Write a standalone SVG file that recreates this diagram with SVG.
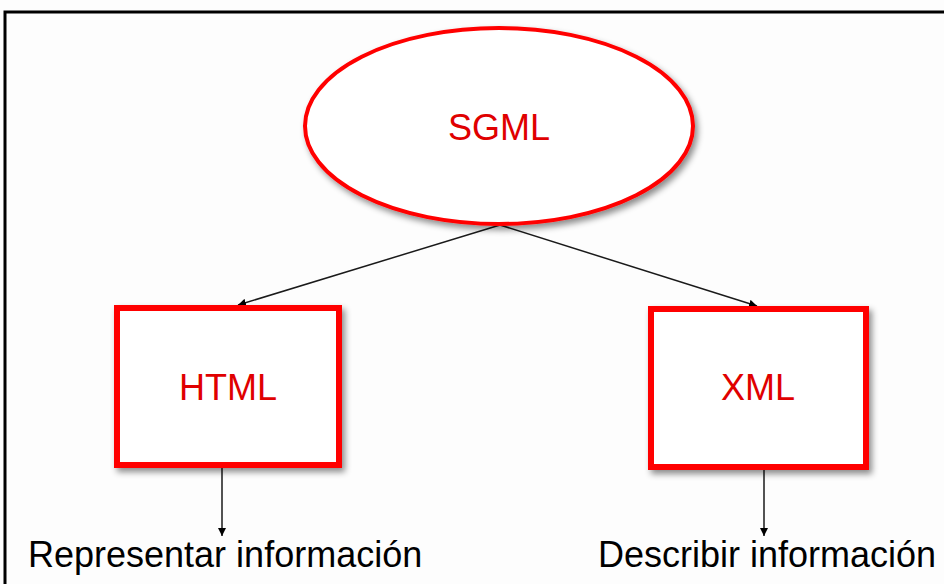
<svg xmlns="http://www.w3.org/2000/svg" width="944" height="584" viewBox="0 0 944 584">
<style>
.node{fill:#fff;stroke:#ff0000;filter:url(#sh)}
.lbl{font-family:"Liberation Sans",Arial,sans-serif;font-size:36px;fill:#e00000;text-anchor:middle}
.cap{font-family:"Liberation Sans",Arial,sans-serif;font-size:36px;fill:#000}
.con{stroke:#1a1a1a;stroke-width:1.5;fill:none;marker-end:url(#ah)}
</style>
<defs>
<filter id="sh" x="-20%" y="-20%" width="140%" height="140%">
<feDropShadow dx="3" dy="4" stdDeviation="3" flood-color="#000" flood-opacity="0.45"/>
</filter>
<marker id="ah" viewBox="0 0 10 10" refX="10" refY="5" markerWidth="8" markerHeight="8" markerUnits="userSpaceOnUse" orient="auto">
<path d="M0,0 L10,5 L0,10 Z" fill="#000"/>
</marker>
</defs>
<rect width="944" height="584" fill="#fdfdfd"/>
<rect x="5" y="12" width="1000" height="1000" fill="none" stroke="#000" stroke-width="3"/>
<g id="connectors">
<line class="con" x1="500" y1="225" x2="238" y2="305"/>
<line class="con" x1="500" y1="225" x2="757" y2="306"/>
<line class="con" x1="222" y1="468" x2="222" y2="536"/>
<line class="con" x1="764" y1="470" x2="764" y2="536"/>
</g>
<g id="sgml">
<ellipse class="node" cx="499" cy="126" rx="194" ry="98" stroke-width="4"/>
<text class="lbl" x="499" y="140">SGML</text>
</g>
<g id="html">
<rect class="node" x="117" y="308" width="222" height="157" stroke-width="6"/>
<text class="lbl" x="228" y="400">HTML</text>
</g>
<g id="xml">
<rect class="node" x="651" y="309" width="215" height="158" stroke-width="6"/>
<text class="lbl" x="758" y="400">XML</text>
</g>
<g id="representar">
<text class="cap" x="28" y="567">Representar información</text>
</g>
<g id="describir">
<text class="cap" x="598" y="567">Describir información</text>
</g>
</svg>
